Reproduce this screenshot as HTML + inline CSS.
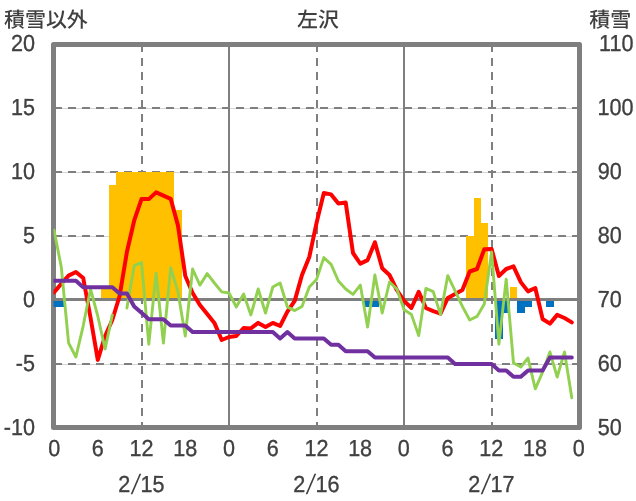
<!DOCTYPE html><html lang="ja"><head><meta charset="utf-8"><title>左沢</title>
<style>html,body{margin:0;padding:0;background:#fff}svg{display:block}text{font-family:"Liberation Sans","Noto Sans CJK JP",sans-serif;fill:#404040}</style></head><body>
<svg width="636" height="501" viewBox="0 0 636 501">
<rect width="636" height="501" fill="#fff"/>
<defs><clipPath id="c"><rect x="53.5" y="44.0" width="526.5" height="384.0"/></clipPath></defs>
<rect x="53.50" y="44.50" width="526.00" height="383.00" fill="none" stroke="#7f7f7f" stroke-width="5" stroke-linejoin="round"/>
<line x1="54" y1="108.5" x2="579" y2="108.5" stroke="#d4d4d4" stroke-width="1"/>
<line x1="54" y1="108" x2="579" y2="108" stroke="#7f7f7f" stroke-width="2" stroke-dasharray="8 6"/>
<line x1="54" y1="172.5" x2="579" y2="172.5" stroke="#d4d4d4" stroke-width="1"/>
<line x1="54" y1="172" x2="579" y2="172" stroke="#7f7f7f" stroke-width="2" stroke-dasharray="8 6"/>
<line x1="54" y1="236.5" x2="579" y2="236.5" stroke="#d4d4d4" stroke-width="1"/>
<line x1="54" y1="236" x2="579" y2="236" stroke="#7f7f7f" stroke-width="2" stroke-dasharray="8 6"/>
<line x1="54" y1="364.5" x2="579" y2="364.5" stroke="#d4d4d4" stroke-width="1"/>
<line x1="54" y1="364" x2="579" y2="364" stroke="#7f7f7f" stroke-width="2" stroke-dasharray="8 6"/>
<line x1="142" y1="44" x2="142" y2="427" stroke="#7f7f7f" stroke-width="2" stroke-dasharray="8 6"/>
<line x1="317" y1="44" x2="317" y2="427" stroke="#7f7f7f" stroke-width="2" stroke-dasharray="8 6"/>
<line x1="492" y1="44" x2="492" y2="427" stroke="#7f7f7f" stroke-width="2" stroke-dasharray="8 6"/>
<line x1="229" y1="44" x2="229" y2="427" stroke="#7f7f7f" stroke-width="2"/>
<line x1="404" y1="44" x2="404" y2="427" stroke="#7f7f7f" stroke-width="2"/>
<g clip-path="url(#c)">
<polygon points="101,300 101,287 109,287 109,185 116,185 116,172 123,172 123,172 130,172 130,172 138,172 138,172 145,172 145,172 152,172 152,172 160,172 160,172 167,172 167,172 174,172 174,210 182,210 182,300" fill="#ffc000"/>
<polygon points="466,300 466,236 474,236 474,198 481,198 481,223 488,223 488,300" fill="#ffc000"/>
<polygon points="510,300 510,287 517,287 517,300" fill="#ffc000"/>
<polygon points="50,300 50,307 57,307 57,307 64,307 64,300" fill="#0070c0"/>
<polygon points="364,300 364,307 371,307 371,307 379,307 379,300" fill="#0070c0"/>
<polygon points="495,300 495,339 503,339 503,313 510,313 510,300" fill="#0070c0"/>
<polygon points="517,300 517,313 525,313 525,307 532,307 532,300" fill="#0070c0"/>
<polygon points="546,300 546,307 554,307 554,300" fill="#0070c0"/>
<line x1="53.5" y1="299.5" x2="579.5" y2="299.5" stroke="#7f7f7f" stroke-width="3"/>
<polyline points="54.0,292.5 61.3,283.7 68.6,275.6 75.9,272.0 83.2,278.0 90.5,317.5 97.8,359.9 105.1,336.0 112.3,320.0 119.6,296.0 126.9,252.0 134.2,220.5 141.5,199.1 148.8,199.1 156.1,192.4 163.4,195.6 170.7,198.8 178.0,225.6 185.3,276.0 192.6,293.0 199.9,305.0 207.2,314.0 214.4,322.9 221.7,340.0 229.0,337.0 236.3,336.0 243.6,328.0 250.9,328.4 258.2,322.9 265.5,327.0 272.8,322.9 280.1,326.0 287.4,311.7 294.7,300.9 302.0,275.0 309.3,257.0 316.5,223.1 323.8,193.0 331.1,194.4 338.4,203.5 345.7,202.6 353.0,253.0 360.3,263.6 367.6,260.1 374.9,242.2 382.2,268.3 389.5,275.0 396.8,290.0 404.1,300.9 411.4,308.0 418.7,291.9 425.9,308.0 433.2,311.1 440.5,313.6 447.8,297.9 455.1,294.0 462.4,290.0 469.7,271.5 477.0,269.0 484.3,249.2 491.6,249.0 498.9,276.0 506.2,269.0 513.5,266.4 520.8,282.1 528.0,291.4 535.3,288.0 542.6,319.0 549.9,323.6 557.2,314.9 564.5,318.0 571.8,322.4" fill="none" stroke="#ff0000" stroke-width="4.0" stroke-linejoin="round" stroke-linecap="round"/>
<polyline points="54.0,230.1 61.3,267.1 68.6,343.0 75.9,357.0 83.2,325.8 90.5,289.0 97.8,316.2 105.1,349.0 112.3,314.9" fill="none" stroke="#92d050" stroke-width="2.9" stroke-linejoin="round" stroke-linecap="round"/>
<polyline points="126.9,308.0 134.2,265.7 141.5,262.6 148.8,344.2 156.1,273.1 163.4,343.0 170.7,267.7 178.0,291.9 185.3,336.0 192.6,269.0 199.9,285.1 207.2,273.6 214.4,283.0 221.7,291.9 229.0,293.0 236.3,307.0 243.6,294.0 250.9,314.9 258.2,289.0 265.5,313.0 272.8,287.0 280.1,283.0 287.4,307.0 294.7,310.6 302.0,306.4 309.3,287.0 316.5,279.6 323.8,257.6 331.1,264.4 338.4,281.0 345.7,289.0 353.0,294.4 360.3,285.1 367.6,327.0 374.9,275.0 382.2,313.0 389.5,282.0 396.8,289.0 404.1,309.8 411.4,314.4 418.7,335.6 425.9,288.4 433.2,291.6 440.5,314.4 447.8,275.6 455.1,290.8 462.4,306.4 469.7,320.0 477.0,316.4 484.3,303.9 491.6,252.0 498.9,344.2 506.2,279.2 513.5,363.0 520.8,367.0 528.0,358.0 535.3,388.9 542.6,372.1 549.9,351.9 557.2,377.0 564.5,351.9 571.8,397.8" fill="none" stroke="#92d050" stroke-width="2.9" stroke-linejoin="round" stroke-linecap="round"/>
<polyline points="54.0,280.8 61.3,280.8 68.6,280.8 75.9,280.8 83.2,287.2 90.5,287.2 97.8,287.2 105.1,287.2 112.3,287.2 119.6,293.6 126.9,293.6 134.2,306.4 141.5,312.8 148.8,319.2 156.1,319.2 163.4,319.2 170.7,325.6 178.0,325.6 185.3,325.6 192.6,332.0 199.9,332.0 207.2,332.0 214.4,332.0 221.7,332.0 229.0,332.0 236.3,332.0 243.6,332.0 250.9,332.0 258.2,332.0 265.5,332.0 272.8,332.0 280.1,338.4 287.4,332.0 294.7,338.4 302.0,338.4 309.3,338.4 316.5,338.4 323.8,338.4 331.1,344.8 338.4,344.8 345.7,351.2 353.0,351.2 360.3,351.2 367.6,351.2 374.9,357.6 382.2,357.6 389.5,357.6 396.8,357.6 404.1,357.6 411.4,357.6 418.7,357.6 425.9,357.6 433.2,357.6 440.5,357.6 447.8,357.6 455.1,364.0 462.4,364.0 469.7,364.0 477.0,364.0 484.3,364.0 491.6,364.0 498.9,370.4 506.2,370.4 513.5,376.8 520.8,376.8 528.0,370.4 535.3,370.4 542.6,370.4 549.9,357.6 557.2,357.6 564.5,357.6 571.8,357.6" fill="none" stroke="#7030a0" stroke-width="4.0" stroke-linejoin="round" stroke-linecap="round"/>
</g>
<text transform="translate(34.90,51.00) rotate(0.03) scale(0.93,1)" font-size="23.2" text-anchor="end" stroke="#404040" stroke-width="0.35">20</text>
<text transform="translate(34.90,115.00) rotate(0.03) scale(0.93,1)" font-size="23.2" text-anchor="end" stroke="#404040" stroke-width="0.35">15</text>
<text transform="translate(34.90,179.00) rotate(0.03) scale(0.93,1)" font-size="23.2" text-anchor="end" stroke="#404040" stroke-width="0.35">10</text>
<text transform="translate(34.90,243.00) rotate(0.03) scale(0.93,1)" font-size="23.2" text-anchor="end" stroke="#404040" stroke-width="0.35">5</text>
<text transform="translate(34.90,307.00) rotate(0.03) scale(0.93,1)" font-size="23.2" text-anchor="end" stroke="#404040" stroke-width="0.35">0</text>
<text transform="translate(34.90,371.00) rotate(0.03) scale(0.93,1)" font-size="23.2" text-anchor="end" stroke="#404040" stroke-width="0.35">-5</text>
<text transform="translate(34.90,435.00) rotate(0.03) scale(0.93,1)" font-size="23.2" text-anchor="end" stroke="#404040" stroke-width="0.35">-10</text>
<text transform="translate(633.50,51.00) rotate(0.03) scale(0.93,1)" font-size="23.2" text-anchor="end" stroke="#404040" stroke-width="0.35">110</text>
<text transform="translate(633.50,115.00) rotate(0.03) scale(0.93,1)" font-size="23.2" text-anchor="end" stroke="#404040" stroke-width="0.35">100</text>
<text transform="translate(621.80,179.00) rotate(0.03) scale(0.93,1)" font-size="23.2" text-anchor="end" stroke="#404040" stroke-width="0.35">90</text>
<text transform="translate(621.80,243.00) rotate(0.03) scale(0.93,1)" font-size="23.2" text-anchor="end" stroke="#404040" stroke-width="0.35">80</text>
<text transform="translate(621.80,307.00) rotate(0.03) scale(0.93,1)" font-size="23.2" text-anchor="end" stroke="#404040" stroke-width="0.35">70</text>
<text transform="translate(621.80,371.00) rotate(0.03) scale(0.93,1)" font-size="23.2" text-anchor="end" stroke="#404040" stroke-width="0.35">60</text>
<text transform="translate(621.80,435.00) rotate(0.03) scale(0.93,1)" font-size="23.2" text-anchor="end" stroke="#404040" stroke-width="0.35">50</text>
<text transform="translate(54.15,456.00) rotate(0.03) scale(0.93,1)" font-size="23.2" text-anchor="middle" stroke="#404040" stroke-width="0.35">0</text>
<text transform="translate(97.86,456.00) rotate(0.03) scale(0.93,1)" font-size="23.2" text-anchor="middle" stroke="#404040" stroke-width="0.35">6</text>
<text transform="translate(141.57,456.00) rotate(0.03) scale(0.93,1)" font-size="23.2" text-anchor="middle" stroke="#404040" stroke-width="0.35">12</text>
<text transform="translate(185.28,456.00) rotate(0.03) scale(0.93,1)" font-size="23.2" text-anchor="middle" stroke="#404040" stroke-width="0.35">18</text>
<text transform="translate(228.99,456.00) rotate(0.03) scale(0.93,1)" font-size="23.2" text-anchor="middle" stroke="#404040" stroke-width="0.35">0</text>
<text transform="translate(272.70,456.00) rotate(0.03) scale(0.93,1)" font-size="23.2" text-anchor="middle" stroke="#404040" stroke-width="0.35">6</text>
<text transform="translate(316.41,456.00) rotate(0.03) scale(0.93,1)" font-size="23.2" text-anchor="middle" stroke="#404040" stroke-width="0.35">12</text>
<text transform="translate(360.12,456.00) rotate(0.03) scale(0.93,1)" font-size="23.2" text-anchor="middle" stroke="#404040" stroke-width="0.35">18</text>
<text transform="translate(403.83,456.00) rotate(0.03) scale(0.93,1)" font-size="23.2" text-anchor="middle" stroke="#404040" stroke-width="0.35">0</text>
<text transform="translate(447.54,456.00) rotate(0.03) scale(0.93,1)" font-size="23.2" text-anchor="middle" stroke="#404040" stroke-width="0.35">6</text>
<text transform="translate(491.25,456.00) rotate(0.03) scale(0.93,1)" font-size="23.2" text-anchor="middle" stroke="#404040" stroke-width="0.35">12</text>
<text transform="translate(534.96,456.00) rotate(0.03) scale(0.93,1)" font-size="23.2" text-anchor="middle" stroke="#404040" stroke-width="0.35">18</text>
<text transform="translate(578.67,456.00) rotate(0.03) scale(0.93,1)" font-size="23.2" text-anchor="middle" stroke="#404040" stroke-width="0.35">0</text>
<text transform="translate(118.22,492.00) rotate(0.03) scale(0.93,1)" font-size="23.2" text-anchor="start" stroke="#404040" stroke-width="0.35">2</text>
<text transform="translate(133.7,493.6) skewX(-12) scale(0.95,1.21)" font-size="23.2" text-anchor="middle">/</text>
<text transform="translate(140.52,492.00) rotate(0.03) scale(0.93,1)" font-size="23.2" text-anchor="start" stroke="#404040" stroke-width="0.35">15</text>
<text transform="translate(293.25,492.00) rotate(0.03) scale(0.93,1)" font-size="23.2" text-anchor="start" stroke="#404040" stroke-width="0.35">2</text>
<text transform="translate(308.7,493.6) skewX(-12) scale(0.95,1.21)" font-size="23.2" text-anchor="middle">/</text>
<text transform="translate(315.55,492.00) rotate(0.03) scale(0.93,1)" font-size="23.2" text-anchor="start" stroke="#404040" stroke-width="0.35">16</text>
<text transform="translate(468.28,492.00) rotate(0.03) scale(0.93,1)" font-size="23.2" text-anchor="start" stroke="#404040" stroke-width="0.35">2</text>
<text transform="translate(483.8,493.6) skewX(-12) scale(0.95,1.21)" font-size="23.2" text-anchor="middle">/</text>
<text transform="translate(490.58,492.00) rotate(0.03) scale(0.93,1)" font-size="23.2" text-anchor="start" stroke="#404040" stroke-width="0.35">17</text>
<text transform="translate(4.00,26.90) rotate(0.03) scale(1.008,1)" font-size="20.8" text-anchor="start" font-weight="500">積雪以外</text>
<text transform="translate(318.00,26.90) rotate(0.03) scale(1.008,1)" font-size="20.8" text-anchor="middle" font-weight="500">左沢</text>
<text transform="translate(589.20,26.90) rotate(0.03) scale(1.008,1)" font-size="20.8" text-anchor="start" font-weight="500">積雪</text>
</svg></body></html>
